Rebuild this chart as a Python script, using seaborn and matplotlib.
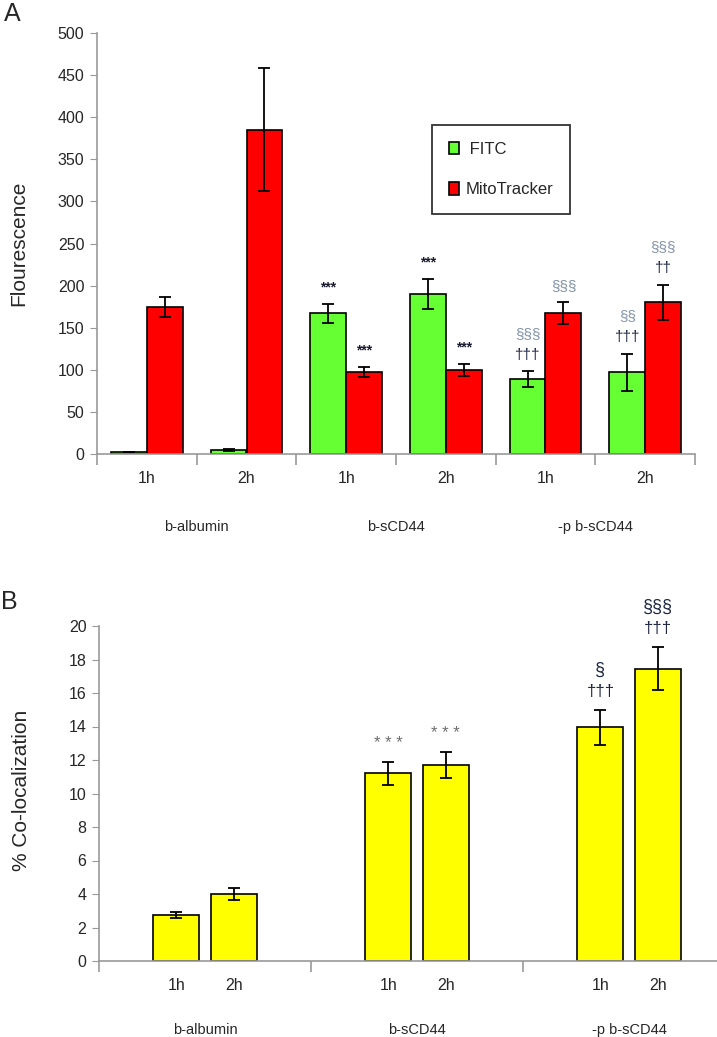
import numpy as np
import pandas as pd
import matplotlib
matplotlib.use("Agg")
import matplotlib.pyplot as plt
import seaborn as sns
from matplotlib.patches import Patch

# data
groups = ["b-albumin", "b-sCD44", "-p b-sCD44"]
times = ["1h", "2h"]
conditions = [f"{g} {t}" for g in groups for t in times]

fitc = [2, 5, 167, 190, 89, 97]
fitc_err = [0, 1.5, 11, 18, 9, 22]
mito = [175, 385, 97, 100, 167, 180]
mito_err = [12, 73, 6, 7, 13, 21]

coloc = [2.75, 4.0, 11.2, 11.7, 13.95, 17.45]
coloc_err = [0.17, 0.33, 0.7, 0.8, 1.03, 1.3]

# significance marks per bar, lowest line first
marks_a = {
    ("b-sCD44 1h", "FITC"): ["***"],
    ("b-sCD44 1h", "MitoTracker"): ["***"],
    ("b-sCD44 2h", "FITC"): ["***"],
    ("b-sCD44 2h", "MitoTracker"): ["***"],
    ("-p b-sCD44 1h", "FITC"): ["\u2020\u2020\u2020", "\u00a7\u00a7\u00a7"],
    ("-p b-sCD44 1h", "MitoTracker"): ["\u00a7\u00a7\u00a7"],
    ("-p b-sCD44 2h", "FITC"): ["\u2020\u2020\u2020", "\u00a7\u00a7"],
    ("-p b-sCD44 2h", "MitoTracker"): ["\u2020\u2020", "\u00a7\u00a7\u00a7"],
}
marks_b = {
    "b-sCD44 1h": ["* * *"],
    "b-sCD44 2h": ["* * *"],
    "-p b-sCD44 1h": ["\u2020\u2020\u2020", "\u00a7"],
    "-p b-sCD44 2h": ["\u2020\u2020\u2020", "\u00a7\u00a7\u00a7"],
}

sns.set_style("white")
plt.rcParams["font.family"] = ["Liberation Sans", "DejaVu Sans"]

GREEN = "#66ff33"
RED = "#ff0000"
YELLOW = "#ffff00"
AXIS = "#999999"

fig = plt.figure(figsize=(7.17, 10.37), dpi=100)
ax_a = fig.add_axes([97 / 717, 583 / 1037, 598 / 717, 421 / 1037])
ax_b = fig.add_axes([99 / 717, 76 / 1037, 618 / 717, 335 / 1037])


def style_axes(ax):
    for s in ["top", "right"]:
        ax.spines[s].set_visible(False)
    for s in ["left", "bottom"]:
        ax.spines[s].set_color(AXIS)
        ax.spines[s].set_linewidth(1.2)
    ax.tick_params(axis="y", which="major", direction="out", length=5,
                   color=AXIS, labelsize=11.5, pad=4, left=True)
    ax.tick_params(axis="x", which="major", length=0, labelsize=11.5)
    ax.tick_params(axis="x", which="minor", direction="out", length=8,
                   color=AXIS, width=1.2, bottom=True)


# ---------- panel A ----------
df_a = pd.DataFrame({
    "condition": conditions * 2,
    "dye": ["FITC"] * 6 + ["MitoTracker"] * 6,
    "value": fitc + mito,
})
sns.barplot(data=df_a, x="condition", y="value", hue="dye", order=conditions,
            hue_order=["FITC", "MitoTracker"], palette=[GREEN, RED],
            saturation=1, width=0.72, errorbar=None, edgecolor="black",
            linewidth=1.2, legend=False, ax=ax_a)

errs_a = {"FITC": fitc_err, "MitoTracker": mito_err}
vals_a = {"FITC": fitc, "MitoTracker": mito}
sym_color_a = {"*": "#1a1a2e", "\u00a7": "#8494ab", "\u2020": "#1c2444"}
for cont, dye in zip(ax_a.containers, ["FITC", "MitoTracker"]):
    xs = [p.get_x() + p.get_width() / 2 for p in cont.patches]
    ax_a.errorbar(xs, vals_a[dye], yerr=errs_a[dye], fmt="none",
                  ecolor="black", elinewidth=1.3, capsize=4, capthick=1.3)
    for x, cond, v, e in zip(xs, conditions, vals_a[dye], errs_a[dye]):
        for i, txt in enumerate(marks_a.get((cond, dye), [])):
            ax_a.text(x, v + e + 20 + 25 * i, txt, ha="center", va="center",
                      fontsize=10 if txt[0] == "*" else 11,
                      fontweight="bold" if txt[0] == "*" else "normal",
                      color=sym_color_a[txt[0]])

ax_a.set_ylim(0, 500)
ax_a.set_yticks(np.arange(0, 501, 50))
ax_a.set_xlim(-0.5, len(conditions) - 0.5)
ax_a.set_xticks(range(len(conditions)), times * len(groups))
ax_a.set_xticks(np.arange(-0.5, len(conditions)), minor=True)
style_axes(ax_a)
ax_a.tick_params(axis="x", which="major", pad=12)
ax_a.set_xlabel("")
ax_a.set_ylabel("Flourescence", fontsize=15)
ax_a.yaxis.set_label_coords(-0.115, 0.5)
for i, g in enumerate(groups):
    ax_a.annotate(g, xy=(2 * i + 0.5, 0), xycoords=("data", "axes fraction"),
                  xytext=(0, -73), textcoords="offset pixels",
                  ha="center", va="center", fontsize=10.5)

handles = [Patch(facecolor=GREEN, edgecolor="black", linewidth=1.2),
           Patch(facecolor=RED, edgecolor="black", linewidth=1.2)]
leg = ax_a.legend(handles, [" FITC", "MitoTracker"], loc="upper left",
                  bbox_to_anchor=(0.56, 0.7815), borderaxespad=0,
                  frameon=True, fancybox=False, edgecolor="black",
                  fontsize=12, handlelength=0.6, handleheight=0.8,
                  handletextpad=0.4, labelspacing=1.5, borderpad=1.0)
leg.get_frame().set_linewidth(1.3)

# ---------- panel B ----------
df_b = pd.DataFrame({
    "group": [g for g in groups for _ in times],
    "time": times * len(groups),
    "value": coloc,
})
sns.barplot(data=df_b, x="group", y="value", hue="time", order=groups,
            hue_order=times, palette=[YELLOW, YELLOW], saturation=1,
            width=0.54, gap=0.2, errorbar=None, edgecolor="black",
            linewidth=1.2, legend=False, ax=ax_b)

sym_color_b = {"*": "#6e6e6e", "\u00a7": "#1c2444", "\u2020": "#1c2444"}
centers = {}
for cont, t in zip(ax_b.containers, times):
    for p, g in zip(cont.patches, groups):
        centers[f"{g} {t}"] = p.get_x() + p.get_width() / 2
xs_b = [centers[c] for c in conditions]
ax_b.errorbar(xs_b, coloc, yerr=coloc_err, fmt="none", ecolor="black",
              elinewidth=1.3, capsize=4, capthick=1.3)
for x, cond, v, e in zip(xs_b, conditions, coloc, coloc_err):
    for i, txt in enumerate(marks_b.get(cond, [])):
        ax_b.text(x, v + e + 1.1 + 1.25 * i, txt, ha="center", va="center",
                  fontsize=13 if txt[0] == "\u00a7" else 12,
                  color=sym_color_b[txt[0]], clip_on=False)

ax_b.set_ylim(0, 20)
ax_b.set_yticks(np.arange(0, 21, 2))
ax_b.set_xlim(-0.5, 2.415)
ax_b.set_xticks(xs_b, times * len(groups))
ax_b.set_xticks([-0.5, 0.5, 1.5], minor=True)
style_axes(ax_b)
ax_b.tick_params(axis="x", which="major", pad=12)
ax_b.set_xlabel("")
ax_b.set_ylabel("% Co-localization", fontsize=15)
ax_b.yaxis.set_label_coords(-0.11, 0.51)
for i, g in enumerate(groups):
    ax_b.annotate(g, xy=(i, 0), xycoords=("data", "axes fraction"),
                  xytext=(0, -69), textcoords="offset pixels",
                  ha="center", va="center", fontsize=10.5)

fig.text(12 / 717, 1 - 14 / 1037, "A", fontsize=18, ha="center", va="center")
fig.text(9 / 717, 1 - 602 / 1037, "B", fontsize=18, ha="center", va="center")

fig.savefig("out.png", dpi=100)
